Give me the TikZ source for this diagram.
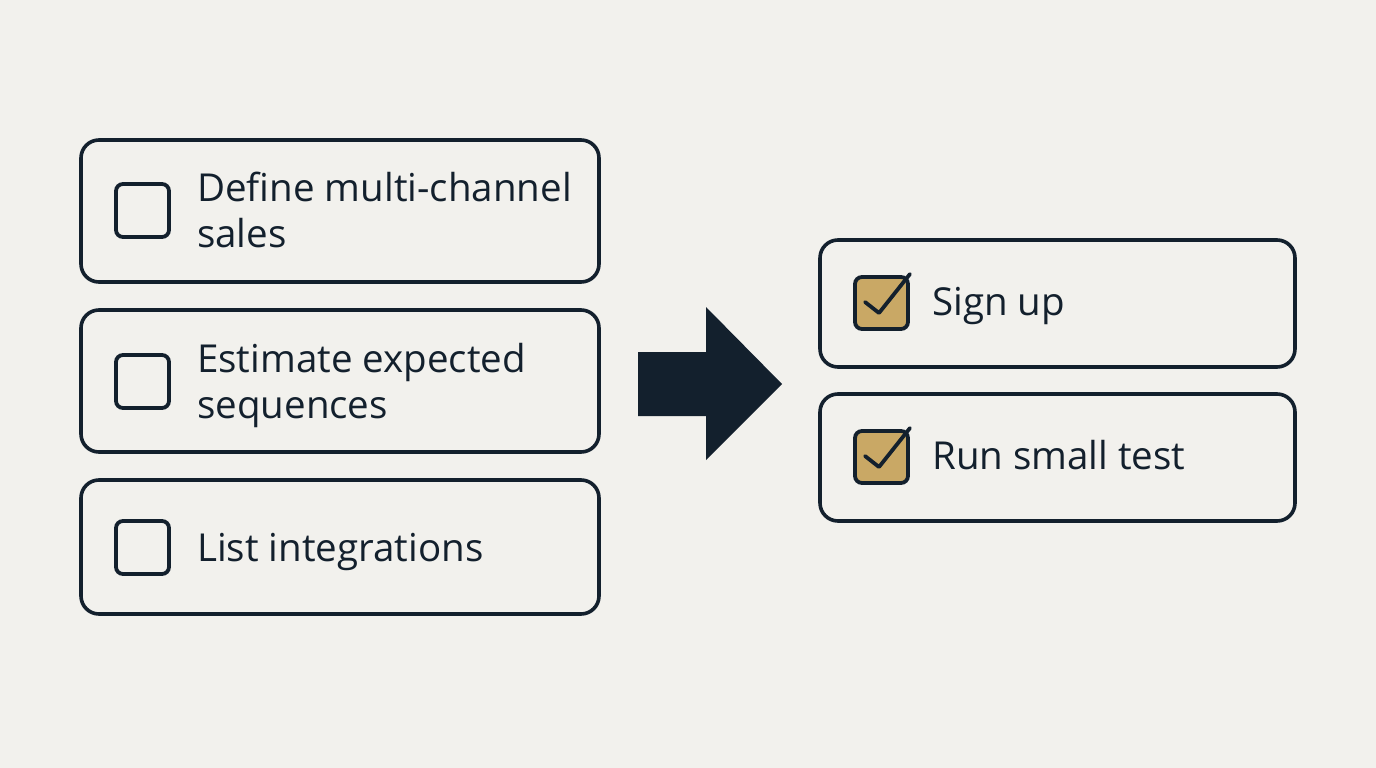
\documentclass[tikz,border=0pt]{standalone}
\usepackage{fontspec}
\setmainfont{Open Sans}
\definecolor{bg}{HTML}{F2F1ED}
\definecolor{ink}{HTML}{13202D}
\definecolor{gold}{HTML}{C9A865}
\begin{document}
\begin{tikzpicture}[x=1pt,y=-1pt,
  card/.style={draw=ink,line width=3.6pt,rounded corners=18pt,fill=bg},
  cbox/.style={draw=ink,line width=3.8pt,rounded corners=7pt},
  done/.style={cbox,fill=gold},
  tick/.style={draw=ink,line width=3.8pt,line cap=round,line join=round},
  lbl/.style={font=\fontsize{38.5}{46}\selectfont,text=ink,inner sep=0pt,anchor=base west,align=left}]
\fill[bg] (0,0) rectangle (1376,768);
\useasboundingbox (0,0) rectangle (1376,768);
% left cards
\draw[card] (81,140) rectangle (599,282);
\draw[card] (81,310) rectangle (599,452);
\draw[card] (81,480) rectangle (599,614);
\draw[cbox] (116,184) rectangle (169,237);
\draw[cbox] (116,355) rectangle (169,408);
\draw[cbox] (116,521) rectangle (169,574);
\node[lbl] (t1) at (197,247) {Define multi-channel\\sales};
\node[lbl] (t2) at (197,418) {Estimate expected\\sequences};
\node[lbl] (t3) at (197,561) {List integrations};
% arrow
\fill[ink] (638,352) -- (706,352) -- (706,307) -- (782,384) -- (706,460) -- (706,416) -- (638,416) -- cycle;
% right cards
\draw[card] (820,240) rectangle (1295,367);
\draw[card] (820,394) rectangle (1295,521);
\draw[done] (855,277) rectangle (908,329);
\draw[done] (855,431) rectangle (908,483);
\draw[tick] (865,302) -- (879,313) -- (910,274);
\draw[tick] (865,456) -- (879,467) -- (910,428);
\node[lbl] (t4) at (932,315) {Sign up};
\node[lbl] (t5) at (932,469) {Run small test};
\end{tikzpicture}
\end{document}
